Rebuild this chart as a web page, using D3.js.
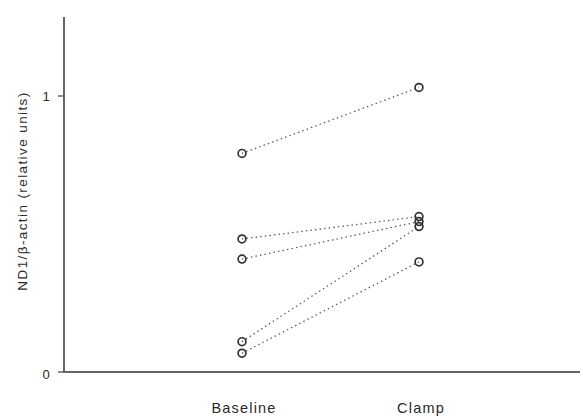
<!DOCTYPE html>
<html>
<head>
<meta charset="utf-8">
<script src="https://cdn.jsdelivr.net/npm/d3@7"></script>
<style>
  html, body { margin: 0; padding: 0; background: #fff; }
  svg { display: block; }
  text { font-family: "Liberation Sans", Arial, sans-serif; fill: #2a2a2a; }
</style>
</head>
<body>
<svg id="chart" width="583" height="416"></svg>
<script>
// Conditions on the x axis
const conditions = ["Baseline", "Clamp"];
// ND1/β-actin per subject, before and during clamp
const baselineValues = [0.792, 0.482, 0.409, 0.110, 0.068];
const clampValues    = [1.031, 0.563, 0.545, 0.527, 0.399];
// Y axis tick values
const yTicks = [0, 1];
const yLabel = "ND1/β-actin (relative units)";

const svg = d3.select("#chart");
const axisX = 64, axisTop = 17, axisBottom = 372, rightEdge = 583;

const x = d3.scalePoint().domain(conditions).range([242, 419]);
const y = d3.scaleLinear().domain([0, 1]).range([axisBottom, 96]);

const subjects = baselineValues.map((b, i) => ({ b, c: clampValues[i] }));

// Dotted connector per subject
svg.append("g").selectAll("line").data(subjects).join("line")
  .attr("x1", x("Baseline")).attr("y1", d => y(d.b))
  .attr("x2", x("Clamp")).attr("y2", d => y(d.c))
  .attr("stroke", "#555").attr("stroke-width", 1.3)
  .attr("stroke-dasharray", "1.4,3.2");

// Open circle markers
const pts = [];
subjects.forEach(d => { pts.push({ k: "Baseline", v: d.b }); pts.push({ k: "Clamp", v: d.c }); });
svg.append("g").selectAll("circle").data(pts).join("circle")
  .attr("cx", d => x(d.k)).attr("cy", d => y(d.v)).attr("r", 3.9)
  .attr("fill", "none").attr("stroke", "#333").attr("stroke-width", 1.7);

// Y axis
svg.append("line").attr("x1", axisX).attr("x2", axisX)
  .attr("y1", axisTop).attr("y2", axisBottom)
  .attr("stroke", "#666").attr("stroke-width", 2);
svg.append("g").selectAll("line").data(yTicks).join("line")
  .attr("x1", axisX - 6).attr("x2", axisX)
  .attr("y1", d => y(d)).attr("y2", d => y(d))
  .attr("stroke", "#666").attr("stroke-width", 1.5);
svg.append("g").selectAll("text").data(yTicks).join("text")
  .attr("x", axisX - 18).attr("y", d => y(d) + (d === 0 ? 7 : 5))
  .attr("text-anchor", "middle").attr("font-size", 13)
  .text(d => d);

// X axis baseline
svg.append("line").attr("x1", axisX - 1).attr("x2", rightEdge - 3)
  .attr("y1", axisBottom).attr("y2", axisBottom)
  .attr("stroke", "#666").attr("stroke-width", 2);
svg.append("g").selectAll("text").data(conditions).join("text")
  .attr("x", d => x(d) + 2).attr("y", 413)
  .attr("text-anchor", "middle").attr("font-size", 14.5)
  .attr("letter-spacing", 1.2)
  .text(d => d);

// Y axis title
svg.append("text")
  .attr("transform", `translate(27,191) rotate(-90)`)
  .attr("text-anchor", "middle").attr("font-size", 13.5)
  .attr("letter-spacing", 1.4)
  .text(yLabel);
</script>
</body>
</html>
